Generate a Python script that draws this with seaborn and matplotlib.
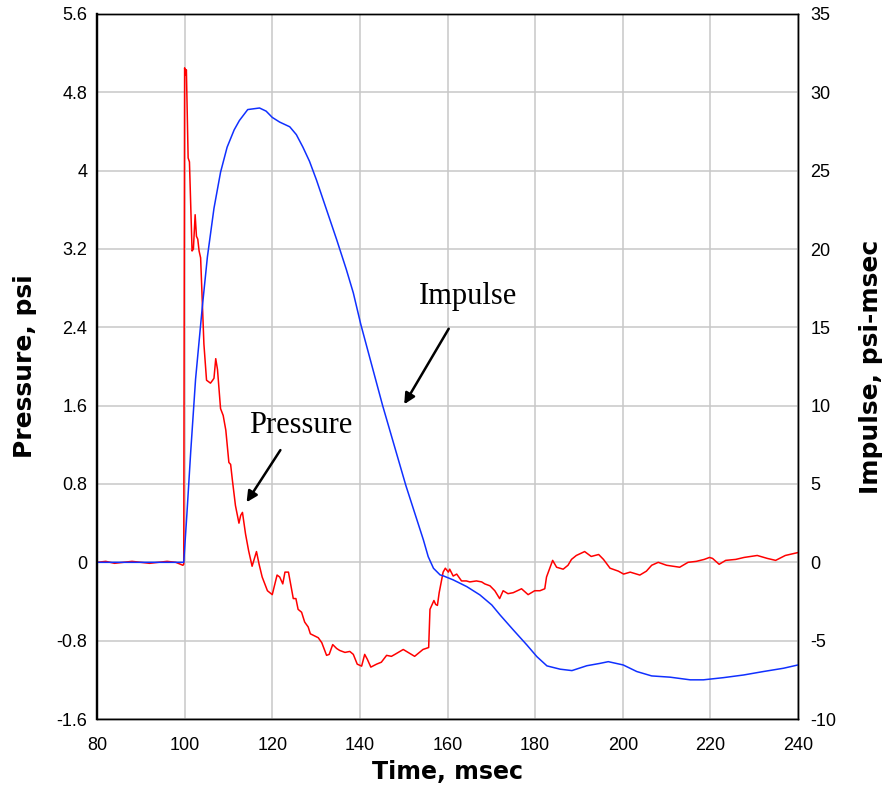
import numpy as np
import pandas as pd
import matplotlib
matplotlib.use("Agg")
import matplotlib.pyplot as plt
import seaborn as sns

# Pressure trace, split in phases (time in msec, pressure in psi)
pre_t = [80, 82, 84, 86, 88, 90, 92, 94, 96, 98, 99.6, 99.8]
pre_p = [0.0, 0.01, -0.01, 0.0, 0.01, 0.0, -0.01, 0.0, 0.01, 0.0, -0.03, -0.02]

peak_t = [100.0, 100.2, 100.4, 100.6, 100.8, 101.1, 101.5, 101.7, 102.0, 102.4,
          102.7, 103.0, 103.3, 103.65, 104.0, 104.4, 105.0, 105.9, 106.4, 106.7,
          107.1, 107.5, 108.2, 108.8, 109.4, 110.1, 110.5, 110.9, 111.6, 112.4,
          112.8, 113.2, 113.9, 114.6, 115.4, 116.4, 117.0, 117.7, 118.9, 120.0]
peak_p = [5.05, 4.98, 5.03, 4.6, 4.13, 4.09, 3.5, 3.18, 3.2, 3.55,
          3.33, 3.3, 3.18, 3.11, 2.7, 2.23, 1.86, 1.83, 1.86, 1.88,
          2.08, 1.97, 1.57, 1.5, 1.35, 1.02, 1.0, 0.84, 0.58, 0.40,
          0.48, 0.51, 0.29, 0.12, -0.04, 0.11, -0.02, -0.15, -0.29, -0.33]

neg_t = [121.1, 121.7, 122.4, 122.9, 123.7, 124.8, 125.4, 125.9, 126.7, 127.4,
         128.2, 128.7, 130.5, 131.3, 132.4, 133.0, 133.8, 134.7, 135.4, 136.6,
         137.7, 138.5, 139.4, 140.4, 141.1, 141.7, 142.5, 143.8, 144.9, 146.1,
         147.2, 148.0, 149.9, 151.0, 152.5, 154.4, 155.7]
neg_p = [-0.13, -0.15, -0.22, -0.10, -0.10, -0.37, -0.37, -0.48, -0.51, -0.61,
         -0.66, -0.73, -0.77, -0.82, -0.95, -0.94, -0.84, -0.88, -0.90, -0.92,
         -0.91, -0.94, -1.04, -1.06, -0.94, -0.99, -1.07, -1.04, -1.02, -0.95,
         -0.96, -0.94, -0.89, -0.92, -0.96, -0.89, -0.87]

rec_t = [156.0, 156.9, 157.3, 157.7, 158.1, 159.0, 159.5, 160.2, 160.5, 161.3,
         162.1, 163.2, 164.3, 165.1, 166.6, 167.8, 168.5, 169.7, 170.8, 171.9,
         172.7, 173.8, 175.0, 176.9, 178.4, 179.9, 181.1, 182.2, 182.6, 184.0,
         184.9, 186.4, 187.5, 188.3, 189.4, 191.3, 192.8, 194.5, 195.6, 197.1,
         199.0, 200.2, 201.7, 203.9, 205.4, 206.6, 208.1, 210.0, 213.0, 214.9,
         216.8, 218.6, 219.8, 220.5, 222.0, 223.5, 225.8, 227.7, 230.7, 233.0,
         234.9, 237.1, 240.0]
rec_p = [-0.48, -0.39, -0.43, -0.44, -0.31, -0.10, -0.06, -0.10, -0.07, -0.14,
         -0.12, -0.19, -0.19, -0.20, -0.19, -0.20, -0.22, -0.24, -0.29, -0.37,
         -0.29, -0.32, -0.31, -0.27, -0.33, -0.29, -0.29, -0.27, -0.15, 0.02,
         -0.05, -0.07, -0.03, 0.03, 0.07, 0.11, 0.06, 0.08, 0.03, -0.06,
         -0.09, -0.12, -0.10, -0.13, -0.09, -0.03, 0.0, -0.03, -0.05, 0.0,
         0.01, 0.03, 0.05, 0.04, -0.02, 0.02, 0.03, 0.05, 0.07, 0.04,
         0.02, 0.07, 0.10]

# Impulse trace (psi-msec)
imp_t = [80, 99.8, 100.5, 101.4, 102.5, 104.0, 105.2, 106.7, 108.2, 109.7,
         111.3, 112.5, 114.4, 117.1, 118.6, 120.0, 121.7, 124.0, 125.5, 127.0,
         128.5, 130.1, 132.4, 134.7, 136.9, 138.5, 140.2, 145.2, 150.5, 154.5,
         155.6, 156.8, 158.3, 159.1, 161.3, 164.4, 167.4, 170.1, 172.0, 175.0,
         178.1, 180.4, 182.7, 185.7, 188.4, 191.8, 194.8, 196.7, 200.1, 203.2,
         206.6, 210.8, 215.4, 218.4, 223.0, 227.6, 232.1, 236.7, 240.0]
imp_v = [0.0, 0.0, 3.0, 7.1, 11.7, 16.2, 19.5, 22.6, 24.9, 26.5,
         27.6, 28.2, 28.9, 29.0, 28.8, 28.4, 28.1, 27.8, 27.3, 26.5,
         25.6, 24.4, 22.5, 20.6, 18.7, 17.2, 15.2, 10.0, 4.9, 1.43,
         0.36, -0.38, -0.8, -0.87, -1.12, -1.55, -2.08, -2.72, -3.36, -4.31,
         -5.27, -6.02, -6.61, -6.82, -6.91, -6.6, -6.45, -6.34, -6.55, -6.97,
         -7.25, -7.33, -7.5, -7.5, -7.36, -7.19, -6.97, -6.76, -6.55]

pressure = pd.DataFrame({"time": pre_t + peak_t + neg_t + rec_t,
                         "psi": pre_p + peak_p + neg_p + rec_p})
impulse = pd.DataFrame({"time": imp_t, "impulse": imp_v})

sns.set_style("white")
plt.rcParams["font.family"] = ["Liberation Sans", "DejaVu Sans"]
plt.rcParams["axes.unicode_minus"] = False
for key in ["text.color", "axes.labelcolor", "xtick.color", "ytick.color"]:
    plt.rcParams[key] = "black"

fig = plt.figure(figsize=(8.85, 7.89), dpi=100)
ax = fig.add_axes([97 / 885, 1 - 719 / 789, 701 / 885, 705 / 789])
ax2 = ax.twinx()

sns.lineplot(data=pressure, x="time", y="psi", ax=ax, color="#ff0000",
             linewidth=1.1, estimator=None, sort=False)
sns.lineplot(data=impulse, x="time", y="impulse", ax=ax2, color="#1030ff",
             linewidth=1.1, estimator=None, sort=False)

ax.set_xlim(80, 240)
ax.set_ylim(-1.6, 5.6)
ax2.set_ylim(-10, 35)
ax.set_xticks(np.arange(80, 241, 20))
ax.set_yticks(np.arange(-1.6, 5.61, 0.8))
ax.set_yticklabels(["-1.6", "-0.8", "0", "0.8", "1.6", "2.4", "3.2", "4", "4.8", "5.6"])
ax2.set_yticks(np.arange(-10, 36, 5))

ax.grid(True, color="#c8c8c8", linewidth=1.1)
ax.tick_params(axis="both", length=0, labelsize=13)
ax.tick_params(axis="x", pad=13)
ax.tick_params(axis="y", pad=7)
ax2.tick_params(axis="y", length=0, labelsize=13, pad=9)

for sp in ax.spines.values():
    sp.set_color("black")
    sp.set_linewidth(1.0)
ax.spines["left"].set_linewidth(1.6)
for sp in ax2.spines.values():
    sp.set_color("black")
    sp.set_linewidth(1.0)
ax2.spines["left"].set_linewidth(1.6)

lab_font = ["DejaVu Sans"]
ax.set_xlabel("Time, msec", fontsize=17, fontweight="bold", family=lab_font, labelpad=4)
ax.set_ylabel("Pressure, psi", fontsize=18, fontweight="bold", family=lab_font, labelpad=14)
ax2.set_ylabel("Impulse, psi-msec", fontsize=18, fontweight="bold", family=lab_font, labelpad=16)

# annotations with arrows
serif = ["Liberation Serif", "DejaVu Serif"]
ax.annotate("", xy=(113.8, 0.59), xytext=(122.2, 1.17),
            arrowprops=dict(arrowstyle="-|>", color="black", lw=1.8, mutation_scale=16))
ax.text(126.6, 1.40, "Pressure", fontsize=22, family=serif, ha="center", va="center")
ax.annotate("", xy=(149.8, 1.59), xytext=(160.6, 2.41),
            arrowprops=dict(arrowstyle="-|>", color="black", lw=1.8, mutation_scale=16))
ax.text(164.7, 2.71, "Impulse", fontsize=22, family=serif, ha="center", va="center")

fig.savefig("out.png", dpi=100)
